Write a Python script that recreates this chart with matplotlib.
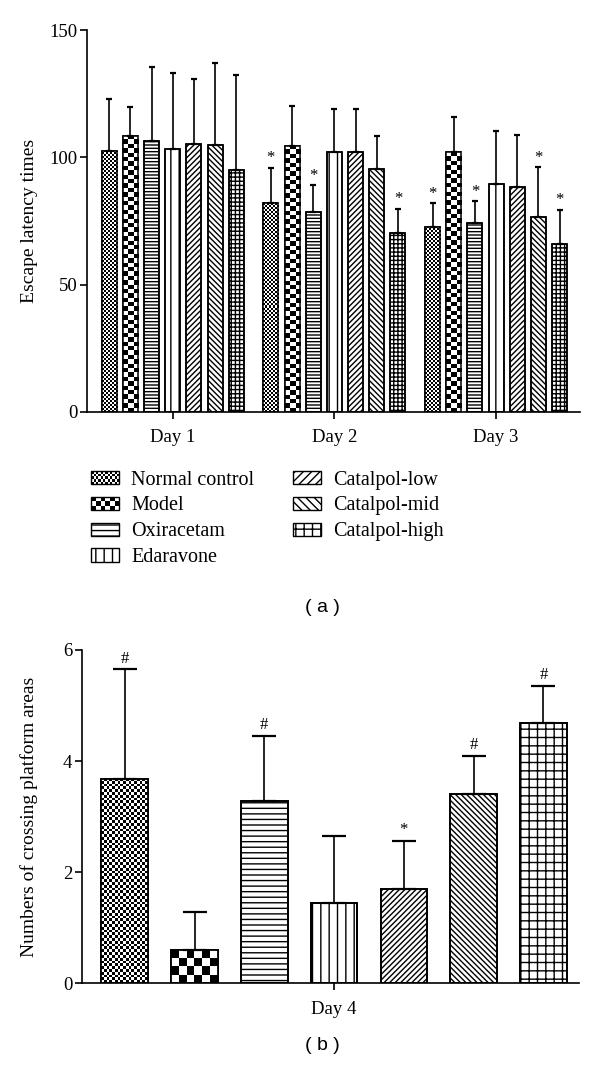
import numpy as np
import matplotlib
matplotlib.use("Agg")
import matplotlib.pyplot as plt
from matplotlib.patches import Patch, Rectangle
from matplotlib.legend_handler import HandlerBase

groups = ["Normal control", "Model", "Oxiracetam", "Edaravone",
          "Catalpol-low", "Catalpol-mid", "Catalpol-high"]
days = ["Day 1", "Day 2", "Day 3"]

# escape latency (mean, upper error) per day
latency_day1 = [102.5, 108.5, 106.5, 103.3, 105.3, 104.7, 95.1]
latency_day1_err = [20.5, 11.2, 29.1, 29.7, 25.6, 32.4, 37.2]
latency_day2 = [81.9, 104.6, 78.4, 102.1, 102.1, 95.5, 70.4]
latency_day2_err = [14.0, 15.7, 10.6, 16.9, 16.9, 12.7, 9.4]
latency_day3 = [72.8, 102.1, 74.3, 89.5, 88.5, 76.7, 66.1]
latency_day3_err = [9.3, 13.8, 8.4, 20.9, 20.3, 19.4, 13.3]
marks_day1 = ["", "", "", "", "", "", ""]
marks_day2 = ["*", "", "*", "", "", "", "*"]
marks_day3 = ["*", "", "*", "", "", "*", "*"]

# crossing platform, day 4
crossing = [3.68, 0.60, 3.29, 1.44, 1.70, 3.40, 4.69]
crossing_err = [1.97, 0.69, 1.16, 1.22, 0.86, 0.69, 0.67]
crossing_marks = ["#", "", "#", "", "*", "#", "#"]

plt.rcParams["font.family"] = "Liberation Serif"
plt.rcParams["hatch.linewidth"] = 1.0

# hatch per group (None = checkerboard drawn as image)
hatch_top = [None, None, "-----", "||", "//////", "\\\\\\\\\\\\", "++++"]
hatch_bot = [None, None, "---", "||", "//////", "\\\\\\\\\\\\", "++"]
hatch_leg = [None, None, "---", "||", "////", "\\\\\\\\", "++"]
checker_top = {0: 2.0, 1: 4.4}
checker_bot = {0: 2.8, 1: 7.8}


def add_checker(ax, bar, cell_px):
    x0, y0 = bar.get_x(), bar.get_y()
    w, h = bar.get_width(), bar.get_height()
    (px0, py0), (px1, py1) = ax.transData.transform([(x0, y0), (x0 + w, y0 + h)])
    nx = max(1, int(round((px1 - px0) / cell_px)))
    ny = max(1, int(round((py1 - py0) / cell_px)))
    img = np.add.outer(np.arange(ny), np.arange(nx)) % 2
    im = ax.imshow(img, cmap="gray_r", extent=(x0, x0 + w, y0, y0 + h),
                   origin="lower", interpolation="nearest", aspect="auto",
                   zorder=2.5)
    im.set_clip_path(bar)


class CheckerHandler(HandlerBase):
    def __init__(self, nx, ny):
        super().__init__()
        self.nx, self.ny = nx, ny

    def create_artists(self, legend, orig_handle, xdescent, ydescent,
                       width, height, fontsize, trans):
        arts = []
        cw, ch = width / self.nx, height / self.ny
        for i in range(self.nx):
            for j in range(self.ny):
                if (i + j) % 2 == 0:
                    arts.append(Rectangle((-xdescent + i * cw, -ydescent + j * ch),
                                          cw, ch, facecolor="black", lw=0,
                                          transform=trans))
        arts.append(Rectangle((-xdescent, -ydescent), width, height,
                              facecolor="none", edgecolor="black", lw=1.0,
                              transform=trans))
        return arts


def style_axes(ax):
    ax.spines["top"].set_visible(False)
    ax.spines["right"].set_visible(False)
    ax.spines["left"].set_linewidth(1.2)
    ax.spines["bottom"].set_linewidth(1.2)
    ax.tick_params(axis="both", direction="out", length=5, width=1.2,
                   labelsize=13.5, pad=2)


fig = plt.figure(figsize=(6, 10.72), dpi=100)

# ---------- (a) escape latency ----------
ax1 = fig.add_axes([0.145, 0.6157, 0.822, 0.3563])
ax1.set_xlim(-0.53, 2.52)
ax1.set_ylim(0, 150)
pitch, width = 0.131, 0.093
day_means = [latency_day1, latency_day2, latency_day3]
day_errs = [latency_day1_err, latency_day2_err, latency_day3_err]
day_marks = [marks_day1, marks_day2, marks_day3]
for d in range(len(days)):
    xs = d + (np.arange(len(groups)) - 3) * pitch
    bars = ax1.bar(xs, day_means[d], width, color="white", edgecolor="black",
                   linewidth=1.1, zorder=2)
    for i, b in enumerate(bars):
        if hatch_top[i]:
            b.set_hatch(hatch_top[i])
        else:
            add_checker(ax1, b, checker_top[i])
    ax1.bar(xs, day_means[d], width, fill=False, edgecolor="black",
            linewidth=1.1, zorder=3)
    ax1.errorbar(xs, day_means[d], yerr=[np.zeros(len(groups)), day_errs[d]],
                 fmt="none", ecolor="black", elinewidth=1.2, capsize=2.5,
                 capthick=1.6, zorder=4)
    for i, m in enumerate(day_marks[d]):
        if m:
            ax1.annotate(m, (xs[i], day_means[d][i] + day_errs[d][i]),
                         xytext=(0, 1), textcoords="offset points",
                         ha="center", va="bottom", fontsize=12)
ax1.set_xlim(-0.53, 2.52)
ax1.set_ylim(0, 150)
ax1.set_xticks(range(len(days)))
ax1.set_xticklabels(days)
ax1.set_yticks([0, 50, 100, 150])
ax1.set_ylabel("Escape latency times", fontsize=14)
ax1.yaxis.set_label_coords(-0.099, 0.5)
style_axes(ax1)
ax1.tick_params(axis="x", pad=7)

handles = []
hmap = {}
for i, g in enumerate(groups):
    p = Patch(facecolor="white", edgecolor="black", hatch=hatch_leg[i] or "",
              linewidth=1.0, label=g)
    handles.append(p)
hmap[handles[0]] = CheckerHandler(12, 5)
hmap[handles[1]] = CheckerHandler(6, 3)
fig.legend(handles=handles, labels=groups, handler_map=hmap, ncol=2,
           loc="upper left", bbox_to_anchor=(0.152, 0.561), frameon=False,
           fontsize=14.5, handlelength=1.4, handleheight=0.65,
           handletextpad=0.6, columnspacing=1.9, labelspacing=0.34,
           borderpad=0, borderaxespad=0)

fig.text(0.537, 1 - 607 / 1072, "( a )", family="Liberation Sans",
         fontsize=14, ha="center", va="center")

# ---------- (b) crossing platform ----------
ax2 = fig.add_axes([0.137, 0.0827, 0.828, 0.311])
ax2.set_xlim(-3.61, 3.51)
ax2.set_ylim(0, 6)
xs = np.arange(len(groups)) - 3
bars = ax2.bar(xs, crossing, 0.667, color="white", edgecolor="black",
               linewidth=1.3, zorder=2)
for i, b in enumerate(bars):
    if hatch_bot[i]:
        b.set_hatch(hatch_bot[i])
    else:
        add_checker(ax2, b, checker_bot[i])
ax2.bar(xs, crossing, 0.667, fill=False, edgecolor="black", linewidth=1.3,
        zorder=3)
ax2.errorbar(xs, crossing, yerr=[np.zeros(len(groups)), crossing_err],
             fmt="none", ecolor="black", elinewidth=1.2, capsize=8.3,
             capthick=1.6, zorder=4)
for i, m in enumerate(crossing_marks):
    if m:
        ax2.annotate(m, (xs[i], crossing[i] + crossing_err[i]),
                     xytext=(0, 2), textcoords="offset points",
                     ha="center", va="bottom", fontsize=12)
ax2.set_xlim(-3.61, 3.51)
ax2.set_ylim(0, 6)
ax2.set_xticks([0])
ax2.set_xticklabels(["Day 4"])
ax2.set_yticks([0, 2, 4, 6])
ax2.set_ylabel("Numbers of crossing platform areas", fontsize=14)
ax2.yaxis.set_label_coords(-0.0885, 0.5)
style_axes(ax2)
ax2.tick_params(axis="x", pad=8)

fig.text(0.537, 1 - 1045 / 1072, "( b )", family="Liberation Sans",
         fontsize=14, ha="center", va="center")

fig.savefig("out.png", dpi=100)
